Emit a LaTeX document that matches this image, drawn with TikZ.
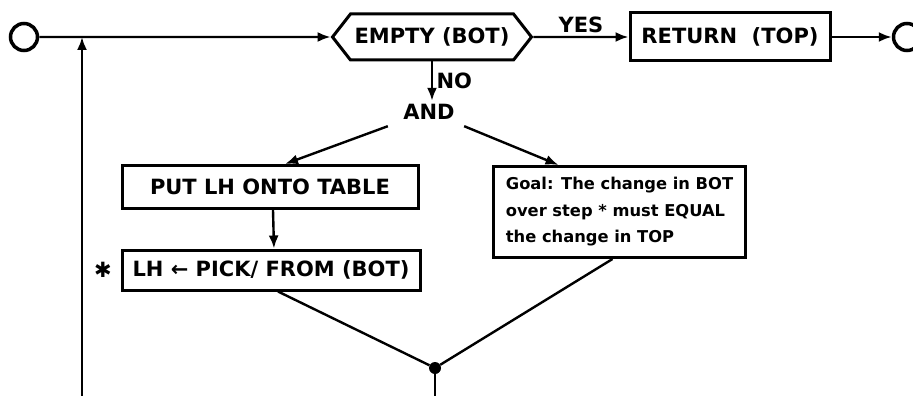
\documentclass[tikz,border=0pt]{standalone}
\usepackage{fontspec}
\setmainfont{DejaVu Sans}
\usetikzlibrary{positioning,arrows.meta,shapes.symbols}

\begin{document}
\begin{tikzpicture}[x=1pt,y=-1pt,
    every node/.style={font=\bfseries\fontsize{21}{25}\selectfont},
    box/.style={draw,rectangle,line width=3pt,inner sep=0pt},
    term/.style={draw,circle,line width=3.5pt,minimum size=27pt,inner sep=0pt},
    flow/.style={-{Latex[length=13pt,width=10pt]},line width=2.4pt},
    plain/.style={line width=2.4pt}]
    \useasboundingbox (0,0) rectangle (913,396);

    % top row
    \node[term] (start) at (24,37) {};
    \node[draw,signal,signal to=west and east,signal pointer angle=104,
          line width=3pt,minimum width=199pt,minimum height=46pt,inner sep=0pt] (test) at (432,37) {EMPTY (BOT)};
    \node[box,minimum width=200pt,minimum height=48pt] (ret) at (730,37) {RETURN\ \ (TOP)};
    \node[term] (stop) at (907,37) {};

    % branches
    \node (and) at (429,112) {AND};
    \node[box,minimum width=296pt,minimum height=43pt] (put) at (270,187) {PUT LH ONTO TABLE};
    \node[box,minimum width=298pt,minimum height=40pt] (pick) at (271,270) {LH ← PICK/ FROM (BOT)};
    \node (star) at (103,270) {✱};
    \node[box,minimum width=245pt,minimum height=91pt,inner xsep=12pt,align=left,
          font=\bfseries\fontsize{16.3}{26.5}\selectfont] (goal) at (619.5,212)
          {Goal: The change in BOT\\over step * must EQUAL\\the change in TOP};
    \node[circle,fill,minimum size=12pt,inner sep=0pt] (join) at (435,368) {};

    \coordinate (loopbot) at (82,396);
    \coordinate (loopin) at (82,37);
    \coordinate (joinbot) at (435,396);

    \draw[flow] (start) -- (test);
    \draw[flow] (test) -- node[above] {YES} (ret);
    \draw[flow] (ret) -- (stop);
    \draw[flow] (loopbot) -- (loopin);
    \draw[flow] (test.south) -- node[right] {NO} (test.south |- and.north);
    \draw[flow] ([xshift=-12pt,yshift=-3pt]and.south west) -- ([xshift=15pt]put.north);
    \draw[flow] ([xshift=6pt,yshift=-3pt]and.south east) -- ([xshift=-61pt]goal.north);
    \draw[flow] ([xshift=3pt]put.south) -- ([xshift=3pt]pick.north);
    \draw[plain] ([xshift=7pt]pick.south) -- (join);
    \draw[plain] ([xshift=-7pt]goal.south) -- (join);
    \draw[plain] (join) -- (joinbot);
\end{tikzpicture}
\end{document}
